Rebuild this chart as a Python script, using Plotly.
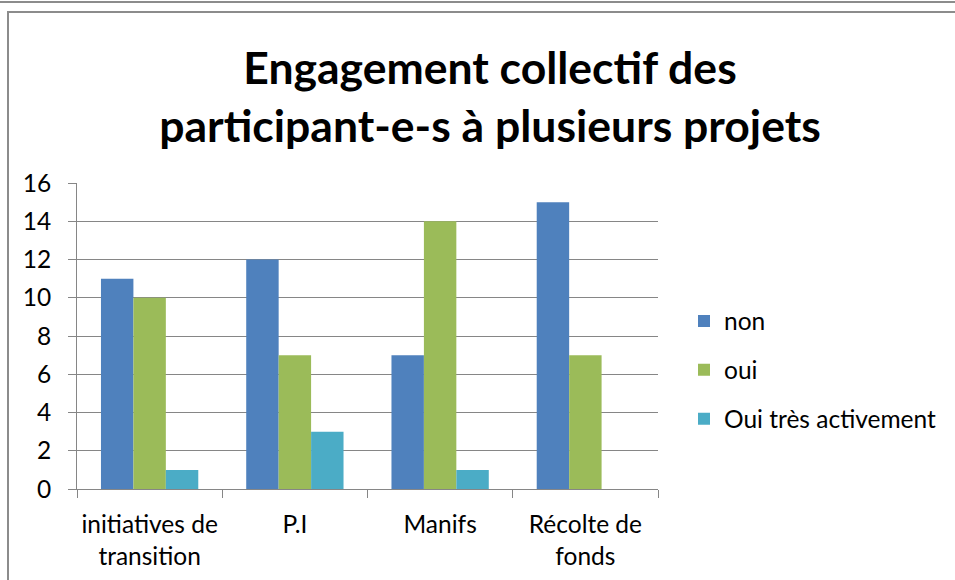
import plotly.graph_objects as go

categories = ["initiatives de<br>transition", "P.I", "Manifs", "Récolte de<br>fonds"]
series_names = ["non", "oui", "Oui très activement"]
non_vals = [11, 12, 7, 15]
oui_vals = [10, 7, 14, 7]
tres_vals = [1, 3, 1, 0]
colors = ["#4F81BD", "#9BBB59", "#4BACC6"]

W, H = 955, 580
L, R, T, B = 77, 955 - 658, 183, 580 - 489
pw, ph = W - L - R, H - T - B

def px_x(x):
    return (x - L) / pw

def px_y(y):
    return (H - B - y) / ph

FONT = "Lato"
FS = 24.5
fig = go.Figure()
for name, vals, c, g in zip(series_names, [non_vals, oui_vals, tres_vals], colors, ["a", "b", "c"]):
    fig.add_trace(go.Bar(x=categories, y=vals, name=name, marker=dict(color=c, line=dict(width=0)),
                         legendgroup=g))

grey = "#868686"
frame = "#8C8C8C"
fig.update_layout(
    width=W, height=H,
    margin=dict(l=L, r=R, t=T, b=B, autoexpand=False),
    paper_bgcolor="white", plot_bgcolor="white",
    font=dict(family=FONT, size=FS, color="black"),
    barmode="group", bargap=0.33, bargroupgap=0,
    title=dict(text="<b>Engagement collectif des<br>participant-e-s à plusieurs projets</b>",
               x=490 / W, xanchor="center", y=1 - 84 / H, yanchor="middle",
               xref="container", yref="container",
               font=dict(family=FONT, size=44.5, color="black")),
    legend=dict(x=px_x(684), xanchor="left", y=px_y(370), yanchor="middle",
                font=dict(size=FS), tracegroupgap=14, traceorder="grouped",
                bgcolor="rgba(0,0,0,0)"),
    xaxis=dict(showline=True, linecolor=grey, linewidth=1, ticks="outside", ticklen=8,
               tickcolor=grey, tickson="boundaries", showgrid=False, tickangle=0,
               ticklabelstandoff=14, tickfont=dict(size=FS)),
    yaxis=dict(range=[0, 16], dtick=2, showline=True, linecolor=grey, linewidth=1,
               ticks="outside", ticklen=8, tickcolor=grey, gridcolor=grey, gridwidth=1,
               zeroline=False, ticklabelstandoff=12, tickfont=dict(size=FS)),
    shapes=[
        dict(type="line", xref="paper", yref="paper", x0=px_x(0), x1=px_x(955),
             y0=px_y(2), y1=px_y(2), line=dict(color=frame, width=2)),
        dict(type="line", xref="paper", yref="paper", x0=px_x(7), x1=px_x(955),
             y0=px_y(12), y1=px_y(12), line=dict(color=frame, width=2)),
        dict(type="line", xref="paper", yref="paper", x0=px_x(8), x1=px_x(8),
             y0=px_y(11), y1=px_y(580), line=dict(color=frame, width=2)),
    ],
)

fig.write_html("out.html", config={"displayModeBar": False},
               post_script="document.body.style.margin='0';document.body.style.overflow='hidden';")
